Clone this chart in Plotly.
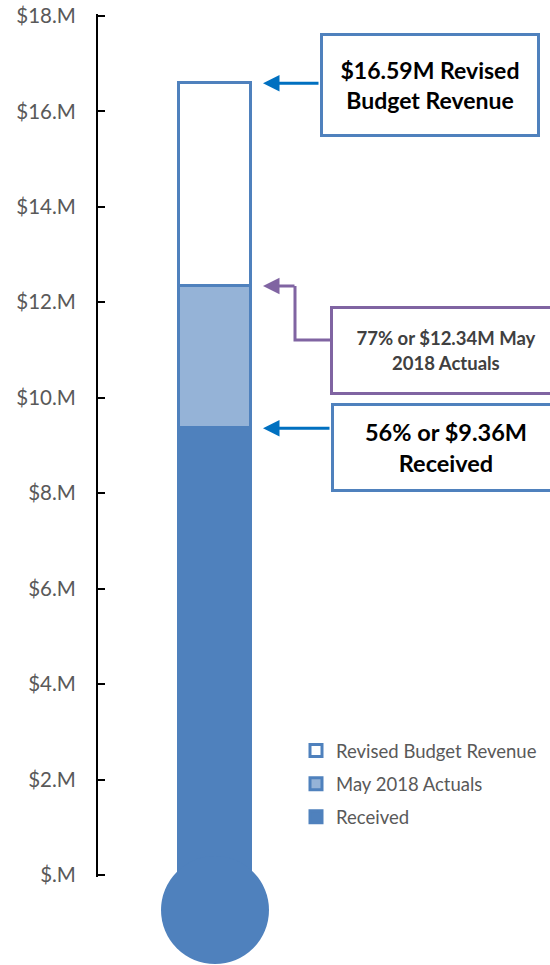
import plotly.graph_objects as go

# ---- data ----
series_names = ["Revised Budget Revenue", "May 2018 Actuals", "Received"]
series_values = [16.59, 12.34, 9.36]          # $M
fill_colors = ["#ffffff", "#95b3d7", "#4f81bd"]
tick_vals = [0, 2, 4, 6, 8, 10, 12, 14, 16, 18]
tick_text = ["$.M", "$2.M", "$4.M", "$6.M", "$8.M", "$10.M", "$12.M", "$14.M", "$16.M", "$18.M"]
box_texts = [
    "$16.59M Revised<br>Budget Revenue",
    "77% or $12.34M May<br>2018 Actuals",
    "56% or $9.36M<br>Received",
]

# ---- layout geometry (page pixels; body margin removed by post_script) ----
OFF = 0
W, H = 550 - OFF, 965 - OFF
S = 859 / 18.0           # px per $M
E = 0.04                 # tiny range padding so end ticks are kept
Y0PAGE = 875             # page y of $0
PL = 98 - OFF
PW = 452
PT = 16 - E * S - OFF
PH = 859 + 2 * E * S
XR = [-1.62, 4.66]


def pxx(px):  # page x pixel -> paper x
    return (px - OFF - PL) / PW


def pxy(py):  # page y pixel -> paper y
    return (PT + PH - (py - OFF)) / PH


def dx(px):  # page x pixel -> data x
    return XR[0] + pxx(px) * (XR[1] - XR[0])


def dy(py):  # page y pixel -> data y
    return (Y0PAGE - py) / S


BLUE = "#4f81bd"
fig = go.Figure()
for name, val, col in zip(series_names, series_values, fill_colors):
    fig.add_trace(go.Bar(
        x=[0], y=[val], name=name, width=1,
        marker=dict(color=col, line=dict(color=BLUE, width=3)),
        legendgroup=name,
    ))

# bulb
cx, cy, r = 215, 910, 54
fig.add_shape(type="circle", xref="paper", yref="paper",
              x0=pxx(cx - r), x1=pxx(cx + r), y0=pxy(cy + r), y1=pxy(cy - r),
              fillcolor=BLUE, line=dict(width=0), layer="above")

# text boxes
boxes = [
    dict(left=320, top=33, w=214, h=98, border=BLUE, color="#000000", size=23),
    dict(left=330, top=306, w=226, h=83, border="#8064a2", color="#404040", size=18.5),
    dict(left=331, top=403, w=224, h=83, border=BLUE, color="#000000", size=23.5),
]
for b, t in zip(boxes, box_texts):
    fig.add_annotation(xref="paper", yref="paper", x=pxx(b["left"]), y=pxy(b["top"]),
                       xanchor="left", yanchor="top", text="<b>" + t + "</b>",
                       showarrow=False, width=b["w"], height=b["h"],
                       bordercolor=b["border"], borderwidth=3, borderpad=0,
                       bgcolor="#ffffff", align="center", valign="middle",
                       font=dict(family="Lato", size=b["size"], color=b["color"]))

# arrows
tip_x = dx(263)
arrow_specs = [
    (series_values[0], 320, "#0070c0"),
    (series_values[1], 296, "#8064a2"),
    (series_values[2], 331, "#0070c0"),
]
for val, tail_px, col in arrow_specs:
    fig.add_annotation(xref="x", yref="y", axref="x", ayref="y",
                       x=tip_x, y=val, ax=dx(tail_px), ay=val, text="",
                       showarrow=True, arrowhead=2, arrowsize=1.1, arrowwidth=3,
                       arrowcolor=col, standoff=0, startstandoff=0)

# purple elbow connector
ex, ey = 295, 340
path = (f"M {dx(330)},{dy(ey)} L {dx(ex)},{dy(ey)} L {dx(ex)},{series_values[1]}")
fig.add_shape(type="path", xref="x", yref="y", path=path,
              line=dict(color="#8064a2", width=3))

fig.update_layout(
    width=W, height=H,
    margin=dict(l=PL, r=W - PL - PW, t=PT, b=H - PT - PH, pad=0, autoexpand=False),
    plot_bgcolor="#ffffff", paper_bgcolor="#ffffff",
    barmode="overlay", bargap=0,
    showlegend=True,
    legend=dict(x=pxx(296), y=pxy(732), xanchor="left", yanchor="top",
                font=dict(family="Lato", size=18.5, color="#595959"),
                tracegroupgap=6, bgcolor="rgba(0,0,0,0)", traceorder="grouped"),
    xaxis=dict(range=XR, visible=False, fixedrange=True),
    yaxis=dict(range=[-E, 18 + E], tickvals=tick_vals, ticktext=tick_text,
               showline=True, linecolor="#000000", linewidth=2,
               ticks="inside", ticklen=7, tickwidth=2, tickcolor="#000000",
               showgrid=False, zeroline=False, ticklabelstandoff=16,
               ticklabeloverflow="allow",
               tickfont=dict(family="Lato", size=20.5, color="#595959")),
)

fig.write_html(
    "out.html",
    config={"displayModeBar": False},
    post_script="document.body.style.margin='0';document.body.style.overflow='hidden';",
)
